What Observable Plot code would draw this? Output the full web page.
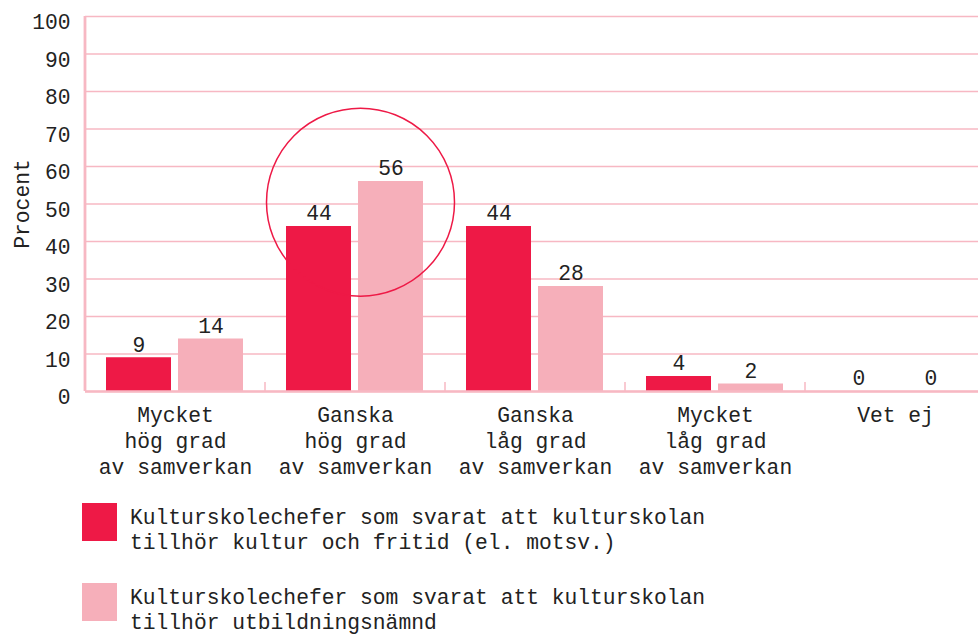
<!DOCTYPE html>
<html>
<head>
<meta charset="utf-8">
<script src="https://cdn.jsdelivr.net/npm/d3@7"></script>
<script src="https://cdn.jsdelivr.net/npm/@observablehq/plot@0.6"></script>
<style>
  html, body { margin: 0; padding: 0; background: #fff; overflow: hidden; width: 978px; height: 635px; }
  body { font-family: "Liberation Mono", "DejaVu Sans Mono", monospace; color: #222; }
  #chart svg { max-width: none !important; display: block; }
  .legend { position: relative; }
  .item { display: flex; align-items: flex-start; height: 80px; }
  .sw { width: 35px; height: 38px; margin-left: 82px; margin-right: 13px; flex: none; }
  .lt { font-size: 21.3px; line-height: 25px; margin-top: 3px; white-space: pre; }
</style>
</head>
<body>
<div id="chart"></div>
<div class="legend" id="legend"></div>
<script>
const categories = [
  "Mycket\nhög grad\nav samverkan",
  "Ganska\nhög grad\nav samverkan",
  "Ganska\nlåg grad\nav samverkan",
  "Mycket\nlåg grad\nav samverkan",
  "Vet ej"
];
const seriesKeys = ["kf", "ub"];
const seriesNames = [
  "Kulturskolechefer som svarat att kulturskolan\ntillhör kultur och fritid (el. motsv.)",
  "Kulturskolechefer som svarat att kulturskolan\ntillhör utbildningsnämnd"
];
const kulturFritid = [9, 44, 44, 4, 0];
const utbildning = [14, 56, 28, 2, 0];
const yTicks = [0, 10, 20, 30, 40, 50, 60, 70, 80, 90, 100];
const highlightCategory = categories[1];
const highlightValue = 50.5;

const RED = "#EE1946";
const PINK = "#F6AFBA";
const GRID = "#F7B8C3";
const INK = "#222";
const FS = 21.3;

const rows = [];
categories.forEach((c, i) => {
  rows.push({cat: c, series: "kf", value: kulturFritid[i]});
  rows.push({cat: c, series: "ub", value: utbildning[i]});
});

const chart = Plot.plot({
  width: 987,
  height: 480,
  marginLeft: 83,
  marginRight: 0,
  marginTop: 16,
  marginBottom: 89,
  style: {fontFamily: "'Liberation Mono', 'DejaVu Sans Mono', monospace", fontSize: FS + "px", color: INK, background: "#fff"},
  fx: {domain: categories, padding: 0},
  x: {domain: seriesKeys, paddingInner: 0.096, paddingOuter: 0.286, axis: null},
  y: {domain: [0, 100]},
  color: {domain: seriesKeys, range: [RED, PINK]},
  marks: [
    Plot.gridY(yTicks, {stroke: GRID, strokeOpacity: 1, strokeWidth: 1.4}),
    Plot.barY(rows, {fx: "cat", x: "series", y: "value", fill: "series"}),
    Plot.ruleY([0], {stroke: GRID, strokeWidth: 2.7}),
    Plot.ruleX([{cat: categories[0]}], {fx: "cat", x: () => "kf", y1: 0, y2: 100, stroke: GRID, strokeWidth: 2.8, dx: -54}),
    Plot.ruleX(categories.slice(1).map(c => ({cat: c})), {fx: "cat", x: () => "kf", y1: 0, y2: 2.4, stroke: GRID, strokeWidth: 1.5, dx: -54}),
    Plot.text(rows, {fx: "cat", x: "series", y: "value", text: d => String(d.value), dy: -13, fontSize: FS, fill: INK}),
    Plot.axisY(yTicks, {tickSize: 0, tickPadding: 15, dy: 6, fontSize: FS, fill: INK, label: null}),
    Plot.axisFx({anchor: "bottom", tickSize: 0, tickPadding: 12, fontSize: FS, lineHeight: 1.22, fill: INK, label: null}),
    Plot.text([{cat: categories[0]}], {fx: "cat", text: () => "Procent", frameAnchor: "left", textAnchor: "middle", rotate: -90, dx: -63, fontSize: FS, fill: INK}),
    Plot.dot([{cat: highlightCategory, series: "kf", value: highlightValue}], {fx: "cat", x: "series", y: "value", r: 94, stroke: RED, fill: "none", strokeWidth: 1.5, dx: 41.5})
  ]
});
document.getElementById("chart").appendChild(chart);

const legend = document.getElementById("legend");
legend.style.paddingTop = "23px";
seriesKeys.forEach((k, i) => {
  const item = document.createElement("div");
  item.className = "item";
  const sw = document.createElement("div");
  sw.className = "sw";
  sw.style.background = i === 0 ? RED : PINK;
  const lt = document.createElement("div");
  lt.className = "lt";
  lt.textContent = seriesNames[i];
  item.appendChild(sw);
  item.appendChild(lt);
  legend.appendChild(item);
});
</script>
</body>
</html>
